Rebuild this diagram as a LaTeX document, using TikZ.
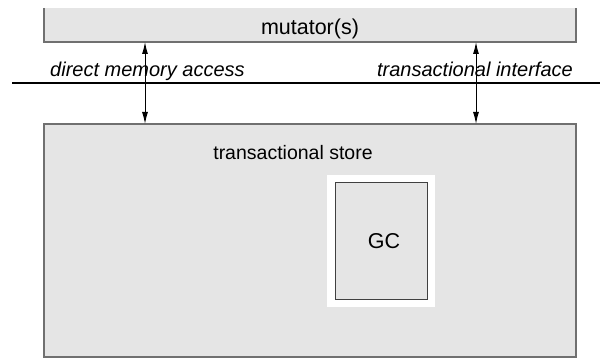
\documentclass[tikz,border=0pt]{standalone}
\usepackage{fontspec}
\setmainfont{Liberation Sans}
\usetikzlibrary{arrows.meta}
\definecolor{boxfill}{HTML}{E5E5E5}
\definecolor{boxline}{HTML}{707070}
\begin{document}
\begin{tikzpicture}[x=1pt,y=-1pt,
  panel/.style={fill=boxfill, draw=none, inner sep=0pt, outer sep=0pt},
  lbl/.style={font=\fontsize{21.5}{24}\selectfont, inner sep=0pt},
  ilbl/.style={font=\fontsize{20}{22}\selectfont\itshape, inner sep=0pt},
  arr/.style={{Latex[length=12pt,width=6pt]}-{Latex[length=12pt,width=6pt]}, line width=1pt, black},
  edge/.style={draw=boxline, line width=1.6pt}]
\useasboundingbox (0,0) rectangle (600,358);
% mutator box
\node[panel, minimum width=532pt, minimum height=34pt] (mut) at (310,25) {};
\draw[edge] (mut.north west) -- (mut.south west) -- (mut.south east) -- (mut.north east);
\node[lbl, anchor=base] (mutt) at (310,35) {mutator(s)};
% store box
\node[panel, minimum width=532pt, minimum height=233pt] (store) at (310,240.5) {};
\draw[edge] (store.north west) rectangle (store.south east);
\node[lbl, font=\fontsize{19.5}{22}\selectfont, anchor=base] (storet) at (293,160) {transactional store};
% GC
\node[fill=white, minimum width=108pt, minimum height=132pt, inner sep=0pt] (gcw) at (381,241) {};
\node[fill=boxfill, draw=black!75, line width=1pt, minimum width=92pt, minimum height=116pt, inner sep=0pt] (gc) at (381,241) {};
\node[lbl, anchor=base] (gct) at (384,249) {GC};
% interface line
\coordinate (l1) at (12,83);
\coordinate (l2) at (600,83);
\draw[line width=1.4pt] (l1) -- (l2);
\node[ilbl, anchor=base west] (dma) at (50,77) {direct memory access};
\node[ilbl, anchor=base east] (ti) at (573,77) {transactional interface};
% arrows
\coordinate (a1) at (145,0);
\coordinate (a2) at (476,0);
\draw[arr] (mut.south -| a1) -- (store.north -| a1);
\draw[arr] (mut.south -| a2) -- (store.north -| a2);
\end{tikzpicture}
\end{document}
